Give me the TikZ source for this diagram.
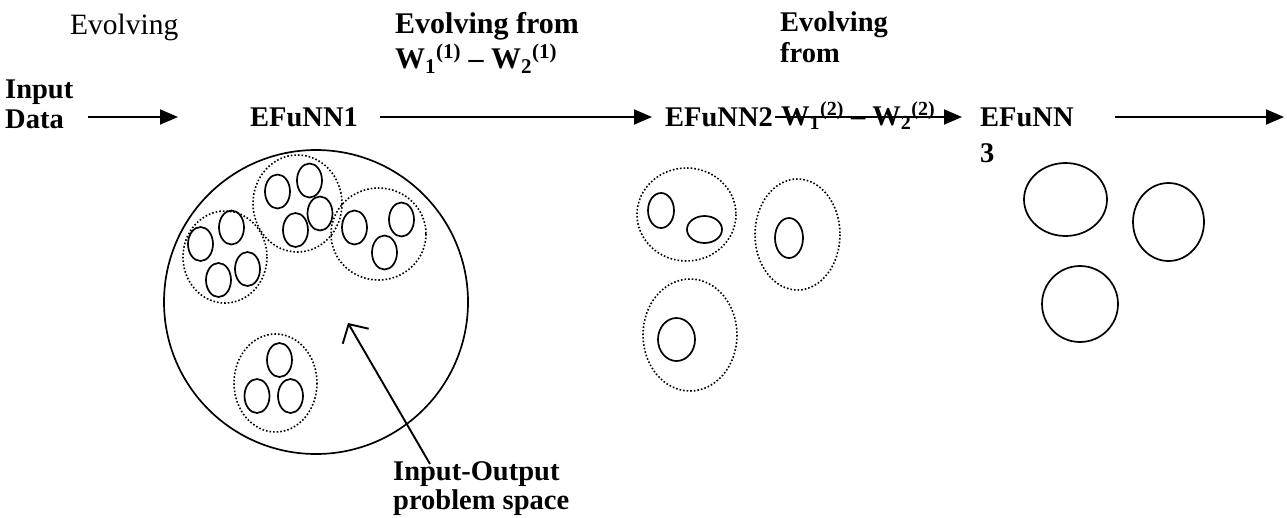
\documentclass[tikz,border=0pt]{standalone}
\usepackage{fontspec}
\setmainfont{Liberation Serif}
\usetikzlibrary{arrows.meta}
\begin{document}
\begin{tikzpicture}[x=1pt,y=-1pt,
  lbl/.style={font=\fontsize{28.5}{33}\selectfont\bfseries, inner sep=0pt, anchor=base west},
  lblbig/.style={font=\fontsize{30}{34}\selectfont\bfseries, inner sep=0pt, anchor=base west},
  rlbl/.style={font=\fontsize{29.5}{34}\selectfont, inner sep=0pt, anchor=base west},
  arr/.style={line width=1.9pt, -{Triangle[length=18pt,width=15pt]}},
  ptrarr/.style={line width=1.9pt, -{Straight Barb[length=14pt,width=30pt,line width=1.9pt]}},
  cell/.style={line width=1.7pt},
  grp/.style={line width=1.6pt, dotted},
  big/.style={line width=1.7pt}]
\useasboundingbox (0,0) rectangle (1287,517);

% top labels
\node[rlbl] (evo0) at (70,34) {Evolving};
\node[lbl] (input) at (5,98) {Input};
\node[lbl] (data) at (5,128) {Data};
\node[lbl] (efunn1) at (250,126) {EFuNN1};
\node[lblbig] (ev1a) at (395,33) {Evolving from};
\node[lblbig] (ev1b) at (395,68) {W\textsubscript{1}\textsuperscript{(1)} -- W\textsubscript{2}\textsuperscript{(1)}};
\node[lbl] (efunn2) at (665,126) {EFuNN2};
\node[lbl] (ev2a) at (780,31) {Evolving};
\node[lbl] (ev2b) at (780,62) {from};
\node[lbl] (ev2c) at (781,125) {W\textsubscript{1}\textsuperscript{(2)} -- W\textsubscript{2}\textsuperscript{(2)}};
\node[lbl] (efunn3) at (980,126) {EFuNN};
\node[lbl] (efunn3b) at (980,162) {3};

% main arrows (anchored on the node rows)
\coordinate (a1s) at (88,117);
\coordinate (a2s) at (380,117);
\coordinate (a3s) at (775,117);
\coordinate (a4s) at (1115,117);
\coordinate (outend) at (1284,117);
\draw[arr] (a1s) -- ([xshift=-72pt]efunn1.west |- a1s);
\draw[arr] (a2s) -- ([xshift=-13pt]efunn2.west |- a2s);
\draw[arr] (a3s) -- ([xshift=-18pt]efunn3.west |- a3s);
\draw[arr] (a4s) -- (outend);

% big circle
\draw[big] (316,302) circle (152);

% group 1
\draw[grp] (225,257) ellipse (42 and 46);
\draw[cell] (200.5,244) ellipse (12.5 and 17);
\draw[cell] (231.5,227.5) ellipse (12.5 and 17);
\draw[cell] (218.5,280) ellipse (12.5 and 17);
\draw[cell] (247.5,269) ellipse (12.5 and 17);
% group 2
\draw[grp] (297.5,203.5) ellipse (44.5 and 48.5);
\draw[cell] (277.5,191.5) ellipse (12.5 and 17);
\draw[cell] (309.5,180.5) ellipse (12.5 and 17);
\draw[cell] (320,213.5) ellipse (12.5 and 17);
\draw[cell] (295.5,230) ellipse (12.5 and 17);
% group 3
\draw[grp] (378.5,234) ellipse (47.5 and 46);
\draw[cell] (354.5,227.5) ellipse (12.5 and 17);
\draw[cell] (401.5,219.5) ellipse (12.5 and 17);
\draw[cell] (384.5,252.5) ellipse (12.5 and 17);
% group 4
\draw[grp] (275.5,383) ellipse (41.5 and 49);
\draw[cell] (279.5,360) ellipse (12.5 and 17);
\draw[cell] (257,396) ellipse (12.5 and 17);
\draw[cell] (290.5,396) ellipse (12.5 and 17);

% pointer label
\node[lbl] (io1) at (393,480) {Input-Output};
\node[lbl] (io2) at (393,509) {problem space};
\coordinate (iotail) at (430,464);
\coordinate (ptr) at (348,323);
\draw[ptrarr] (iotail) -- (ptr);

% EFuNN2 clusters
\draw[grp] (686.5,214.5) ellipse (49.5 and 46.5);
\draw[cell] (661,210.5) ellipse (13 and 17.5);
\draw[cell] (704.5,229.5) ellipse (17.5 and 13.5);
\draw[grp] (797.5,234.5) ellipse (42.5 and 55.5);
\draw[cell] (789,238) ellipse (14 and 20);
\draw[grp] (690,335) ellipse (47 and 56);
\draw[cell] (676.5,339.5) ellipse (18.5 and 21.5);

% EFuNN3 circles
\draw[cell] (1065.5,199.5) ellipse (41.5 and 36.5);
\draw[cell] (1168.5,222) ellipse (35.5 and 39);
\draw[cell] (1080,304) ellipse (38 and 38);
\end{tikzpicture}
\end{document}
